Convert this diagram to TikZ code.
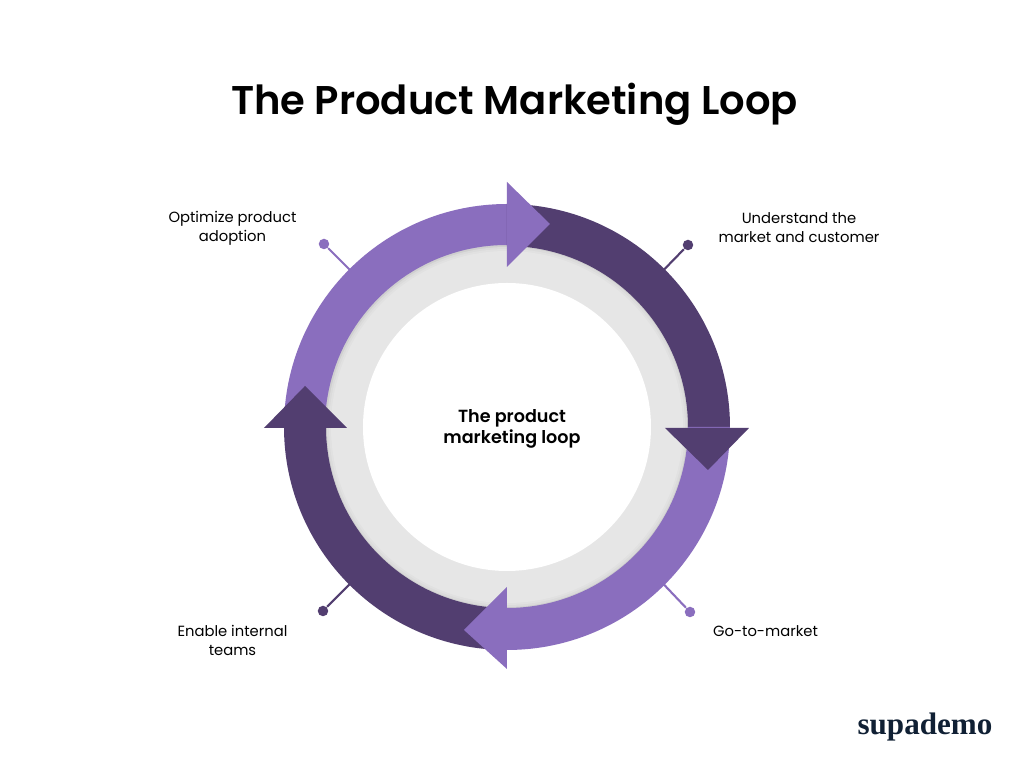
\documentclass[tikz,border=0pt]{standalone}
\usepackage{fontspec}
\setmainfont{Poppins}
\newfontfamily\headfont{Poppins SemiBold}
\newfontfamily\logofont{Liberation Serif}
\definecolor{looplight}{RGB}{138, 110, 190}
\definecolor{loopdark}{RGB}{82, 62, 112}
\definecolor{ringgray}{RGB}{230, 230, 230}
\definecolor{logonavy}{RGB}{16, 32, 52}
\usetikzlibrary{positioning}
\tikzset{
  steplabel/.style={align=center, text=black, inner sep=0pt, font=\fontsize{4.2}{5.4}\selectfont},
  pindot/.style={circle, inner sep=0pt, minimum size=0.105cm},
  pinline/.style={line width=0.6pt}
}

\begin{document}
\begin{tikzpicture}
  \useasboundingbox (-5.07, -3.41) rectangle (5.17, 4.27);
  \fill[white] (-5.07, -3.41) rectangle (5.17, 4.27);

  % Title
  \node[font=\headfont\fontsize{11.4}{13}\selectfont, text=black, inner sep=0pt] (title) at (0.075, 3.225) {The Product Marketing Loop};

  % Pins, under the ring
  \coordinate (ringtl) at (135:2.05);
  \coordinate (ringtr) at (45:2.05);
  \coordinate (ringbr) at (-45:2.05);
  \coordinate (ringbl) at (-135:2.05);
  \node[pindot, fill=looplight] (pintl) at (-1.83, 1.83) {};
  \node[pindot, fill=loopdark] (pintr) at (1.81, 1.82) {};
  \node[pindot, fill=looplight] (pinbr) at (1.83, -1.85) {};
  \node[pindot, fill=loopdark] (pinbl) at (-1.84, -1.84) {};
  \draw[pinline, looplight] (pintl) -- (ringtl);
  \draw[pinline, loopdark] (pintr) -- (ringtr);
  \draw[pinline, looplight] (pinbr) -- (ringbr);
  \draw[pinline, loopdark] (pinbl) -- (ringbl);

  % Gray ring with its soft inner shadow
  \fill[ringgray!90!black] (0, 0) circle (1.83);
  \fill[ringgray!95!black] (0, 0) circle (1.80);
  \fill[ringgray!98!black] (0, 0) circle (1.78);
  \fill[ringgray] (0, 0) circle (1.76);
  \fill[white] (0, 0) circle (1.44);

  % Ring segments
  \fill[looplight] (180:2.23) arc[start angle=180, end angle=90, radius=2.23] -- (90:1.82) arc[start angle=90, end angle=180, radius=1.82] -- cycle;
  \fill[loopdark] (90:2.23) arc[start angle=90, end angle=0, radius=2.23] -- (0:1.81) arc[start angle=0, end angle=90, radius=1.81] -- cycle;
  \fill[looplight] (0:2.23) arc[start angle=0, end angle=-90, radius=2.23] -- (-90:1.81) arc[start angle=-90, end angle=0, radius=1.81] -- cycle;
  \fill[loopdark] (-90:2.23) arc[start angle=-90, end angle=-180, radius=2.23] -- (-180:1.81) arc[start angle=-180, end angle=-90, radius=1.81] -- cycle;

  % Arrow heads
  \fill[looplight] (0, 2.45) -- (0.43, 2.03) -- (0, 1.60) -- cycle;
  \fill[loopdark] (1.58, -0.01) -- (2.42, -0.01) -- (2.01, -0.43) -- cycle;
  \fill[looplight] (0, -1.60) -- (-0.43, -2.03) -- (0, -2.42) -- cycle;
  \fill[loopdark] (-2.43, -0.01) -- (-2.02, 0.41) -- (-1.60, -0.01) -- cycle;

  % Step labels
  \node[steplabel] (optimize) at (-2.745, 1.985) {Optimize product\\adoption};
  \node[steplabel] (understand) at (2.92, 1.99) {Understand the\\market and customer};
  \node[steplabel] (market) at (2.585, -2.04) {Go-to-market};
  \node[steplabel] (enable) at (-2.745, -2.135) {Enable internal\\teams};

  % Centre
  \node[align=center, inner sep=0pt, text=black, font=\headfont\fontsize{5}{6.2}\selectfont] (centre) at (0.05, -0.02) {The product\\marketing loop};

  % Logo
  \node[inner sep=0pt, text=logonavy, font=\logofont\fontsize{8.85}{10}\selectfont\bfseries] (logo) at (4.18, -3.0) {supademo};
\end{tikzpicture}
\end{document}
